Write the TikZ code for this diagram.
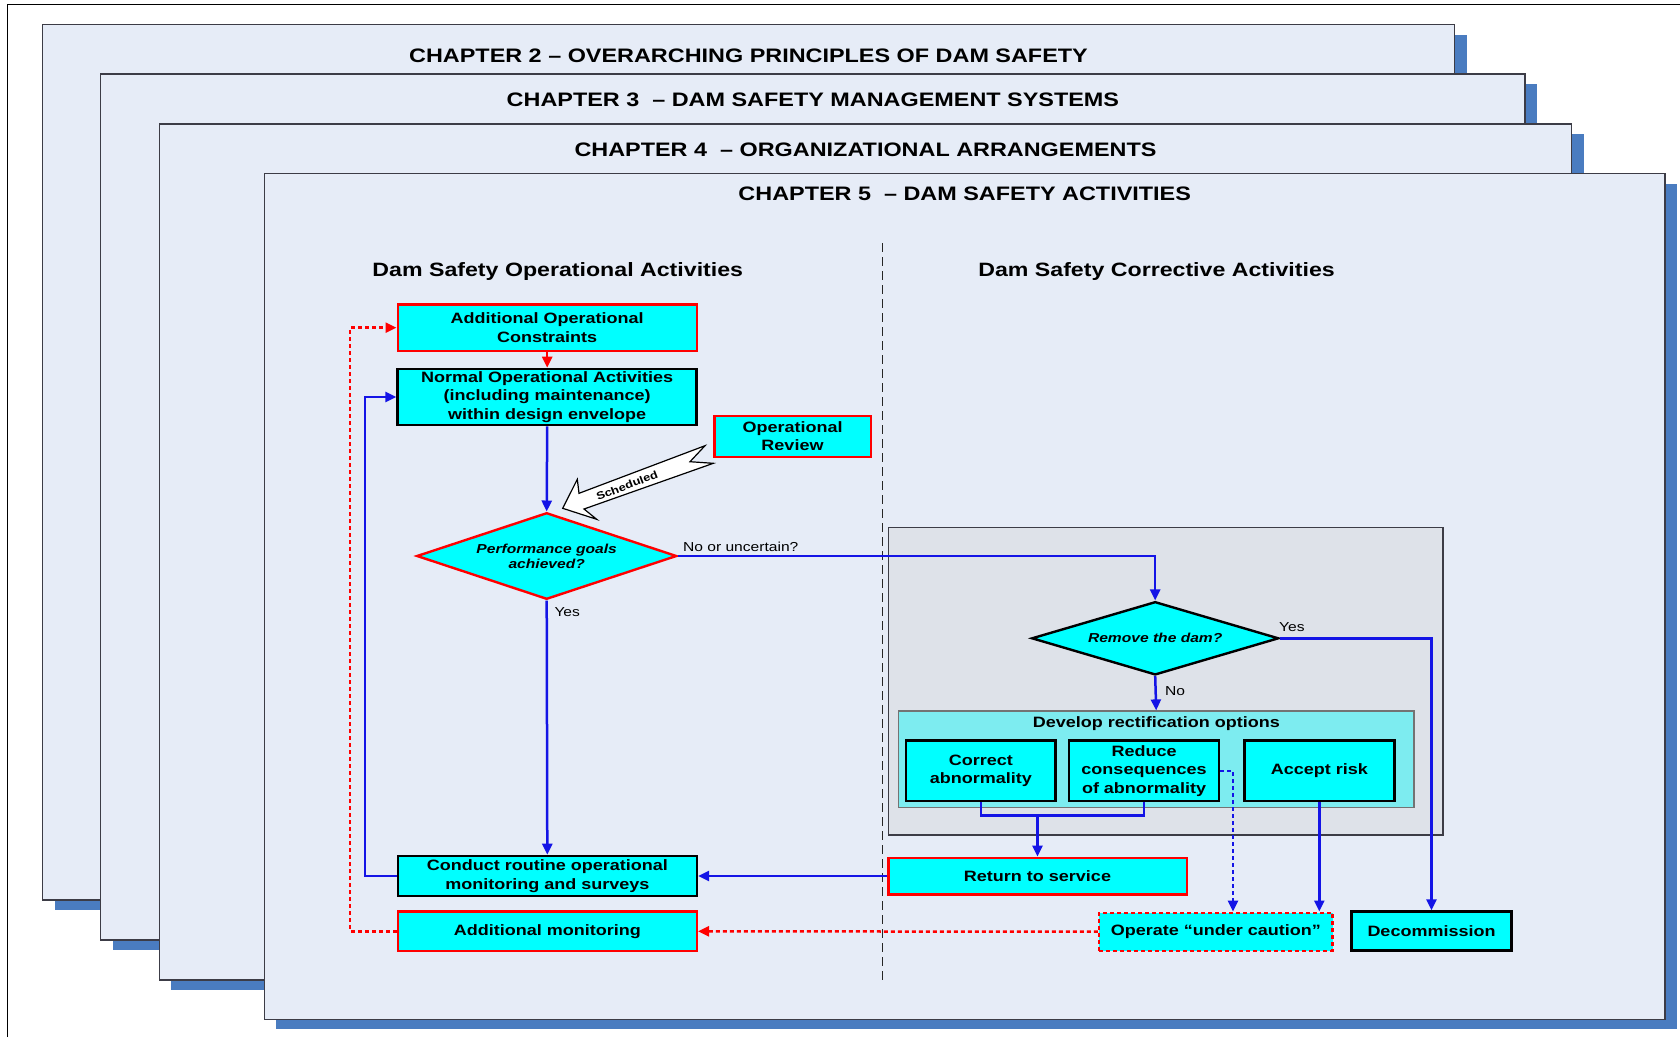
\documentclass[tikz,border=0pt]{standalone}
\usepackage{fontspec}
\setmainfont{Liberation Sans}[FakeStretch=1.2]
\usetikzlibrary{arrows.meta,shapes.geometric,calc}

\definecolor{pagefill}{RGB}{230,236,247}
\definecolor{shadowblue}{RGB}{74,124,192}
\definecolor{panelgray}{RGB}{222,226,233}
\definecolor{optfill}{RGB}{125,236,240}
\definecolor{flowblue}{RGB}{20,20,230}
\definecolor{flowred}{RGB}{255,0,0}
\definecolor{boxcyan}{RGB}{0,255,255}
\definecolor{frameline}{RGB}{60,60,70}

\tikzset{
  chapbox/.style={draw=frameline, line width=1.3pt, fill=pagefill},
  chapshadow/.style={fill=shadowblue},
  chaptitle/.style={anchor=base, inner sep=0pt, font=\bfseries\fontsize{19.5}{22}\selectfont},
  sectitle/.style={anchor=base, inner sep=0pt, font=\bfseries\fontsize{19.3}{22}\selectfont},
  flowbox/.style={rectangle, fill=boxcyan, inner sep=0pt, align=center,
    font=\bfseries\fontsize{15}{18.6}\selectfont},
  blackbox/.style={flowbox, draw=black, line width=2.6pt},
  redbox/.style={flowbox, draw=flowred, line width=2.4pt},
  cautionbox/.style={flowbox, draw=flowred, line width=2.4pt, dash pattern=on 4pt off 3pt},
  decision/.style={diamond, fill=boxcyan, inner sep=0pt, align=center, line width=2.4pt,
    font=\bfseries\itshape\fontsize{13}{15}\selectfont},
  tip/.style={-{Triangle[length=11pt,width=10pt]}},
  link/.style={draw=flowblue, line width=2.5pt},
  flow/.style={link, tip},
  dotflow/.style={flow, dash pattern=on 4pt off 3pt},
  redflow/.style={draw=flowred, line width=2.5pt, tip},
  reddash/.style={redflow, dash pattern=on 4pt off 3pt},
  lbl/.style={inner sep=0pt, font=\fontsize{13}{15}\selectfont},
}

\begin{document}
\begin{tikzpicture}[x=1pt, y=-1pt]
\useasboundingbox (0,0) rectangle (1680,1037);
\fill[white] (0,0) rectangle (1680,1037);

% outer frame
\draw[black, line width=1pt] (7.3,1037) -- (7.3,4.3) -- (1680,4.3);

% stacked chapter sheets with drop shadows
\fill[chapshadow] (54.5,34.5) rectangle (1466.5,910);
\draw[chapbox] (42.5,24.5) rectangle (1454.5,900);
\node[chaptitle] (t2) at (748.5,62.3) {CHAPTER 2 – OVERARCHING PRINCIPLES OF DAM SAFETY};

\fill[chapshadow] (112.7,84) rectangle (1537,950);
\draw[chapbox] (100.7,74) rectangle (1525,940);
\node[chaptitle] (t3) at (812.9,106.6) {CHAPTER 3\ \ – DAM SAFETY MANAGEMENT SYSTEMS};

\fill[chapshadow] (171.3,134) rectangle (1583.7,990);
\draw[chapbox] (159.3,124) rectangle (1571.7,980);
\node[chaptitle] (t4) at (865.5,156) {CHAPTER 4\ \ – ORGANIZATIONAL ARRANGEMENTS};

\fill[chapshadow] (276.4,183.7) rectangle (1677,1029.3);
\draw[chapbox] (264.4,173.7) rectangle (1665,1019.3);
\node[chaptitle] (t5) at (964.7,200.7) {CHAPTER 5\ \ – DAM SAFETY ACTIVITIES};

% column headings and divider
\node[sectitle] (secop) at (557.8,276.7) {Dam Safety Operational Activities};
\node[sectitle] (secco) at (1156.6,276.7) {Dam Safety Corrective Activities};
\draw[black!85, line width=1.3pt, dash pattern=on 9pt off 5pt] (882.7,243.3) -- (882.7,980);

% corrective panel
\draw[draw=frameline, line width=1.3pt, fill=panelgray] (888.5,527.3) rectangle (1443,835);
\node[draw=black!55, line width=1.2pt, fill=optfill, inner sep=0pt,
      minimum width=515.4pt, minimum height=96.7pt] (options) at (1156.2,759.35) {};
\node[anchor=base, inner sep=0pt, font=\bfseries\fontsize{15}{18}\selectfont]
      (optitle) at (1156.4,727) {Develop rectification options};

% operational column
\node[redbox, minimum width=299pt, minimum height=46.7pt] (aoc) at (547.2,327.7)
      {Additional Operational\\Constraints};
\node[blackbox, minimum width=299pt, minimum height=56pt] (noa) at (547.2,397)
      {Normal Operational Activities\\(including maintenance)\\within design envelope};
\node[redbox, minimum width=156.4pt, minimum height=41pt, font=\bfseries\fontsize{15}{17.7}\selectfont]
      (orev) at (792.5,436.2) {Operational\\Review};
\node[decision, draw=flowred, shape aspect=3, minimum width=260pt, minimum height=86.6pt]
      (perf) at (546.7,556) {Performance goals\\achieved?};
\node[blackbox, minimum width=299pt, minimum height=40pt] (conduct) at (547.3,876)
      {Conduct routine operational\\monitoring and surveys};
\node[redbox, minimum width=299pt, minimum height=39.3pt] (addmon) at (547.3,931.3)
      {Additional monitoring};

% corrective column
\node[decision, draw=black, shape aspect=3.37, minimum width=247pt, minimum height=73.3pt]
      (remove) at (1155.2,638.3) {Remove the dam?};
\node[blackbox, minimum width=149.8pt, minimum height=60.3pt, font=\bfseries\fontsize{15}{17.7}\selectfont]
      (correct) at (980.8,770.8) {Correct\\abnormality};
\node[blackbox, minimum width=149.8pt, minimum height=60.3pt] (reduce) at (1144,770.8)
      {Reduce\\consequences\\of abnormality};
\node[blackbox, minimum width=149.8pt, minimum height=60.3pt] (accept) at (1319.3,770.8)
      {Accept risk};
\node[redbox, minimum width=298.4pt, minimum height=36.6pt] (rts) at (1037.5,876)
      {Return to service};
\node[cautionbox, minimum width=233.6pt, minimum height=38pt] (caution) at (1215.8,931.7)
      {Operate “under caution”};
\node[blackbox, minimum width=159.6pt, minimum height=39pt] (decom) at (1431.5,931.2)
      {Decommission};

% scheduled review block arrow
\draw[black, line width=1.2pt, fill=white, line join=miter]
  (562.7,508.3) -- (577.3,479.3) -- (579,493.3) -- (705,445.7) -- (690,461.7)
  -- (713.3,463.3) -- (584,509) -- (596.7,519.3) -- cycle;
\node[rotate=21, inner sep=0pt, font=\bfseries\fontsize{10.7}{12}\selectfont] (sched) at (627,485.5) {Scheduled};

% connectors
\draw[redflow] (aoc.south) -- (noa.north);
\draw[flow] (noa.south) -- (perf.north);
\draw[flow] (perf.east) -| (remove.north);
\node[lbl, anchor=base west] (lnou) at ($(perf.east)+(5,-4.3)$) {No or uncertain?};
\draw[flow] (perf.south) -- (conduct.north);
\node[lbl, anchor=base west] (lyes1) at ($(perf.south)+(7.6,15.7)$) {Yes};

\draw[flow] (remove.east) -| (decom.north);
\node[lbl, anchor=base west] (lyes2) at ($(remove.east)+(-1,-7.3)$) {Yes};
\draw[flow] (remove.south) -- (options.north);
\node[lbl, anchor=base west] (lno) at ($(remove.south)+(9.8,19)$) {No};

\coordinate (merge) at (1037.5,815.7);
\draw[link] (correct.south) |- (merge) -| (reduce.south);
\draw[flow] (merge) -- (rts.north);
\draw[dotflow] (reduce.east) -| ($(caution.north)+(17.2,0)$);
\draw[flow] (accept.south) -- (accept.south |- caution.north);

\draw[flow] (rts.west) -- (conduct.east);
\draw[flow] (conduct.west) -- ++(-31.5,0) |- (noa.west);
\draw[reddash] (caution.west) -- (addmon.east);
\draw[reddash] (addmon.west) -- ++(-46.4,0) |- (aoc.west);
\end{tikzpicture}
\end{document}
